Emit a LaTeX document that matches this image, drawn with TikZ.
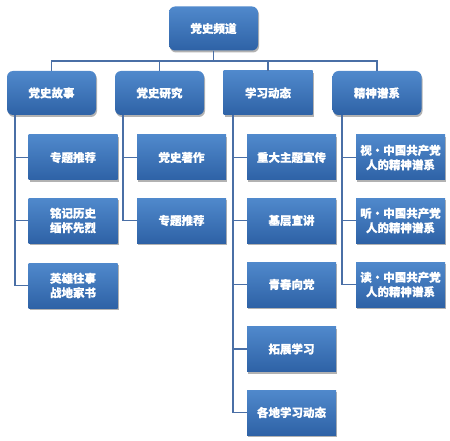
\documentclass[tikz,border=0pt]{standalone}
\usepackage{fontspec}
\setmainfont{Noto Sans CJK SC}[FakeBold=0.6]
\usetikzlibrary{shadows}
\definecolor{boxtop}{HTML}{5089CC}
\definecolor{boxbot}{HTML}{2E62A6}
\definecolor{linec}{HTML}{4A6FA6}
\tikzset{
  base/.style={draw=none, top color=boxtop, bottom color=boxbot, text=white,
    font=\fontsize{11.5}{14.5}\selectfont\bfseries, align=center, inner sep=0pt,
    drop shadow={shadow xshift=1pt, shadow yshift=-2pt, opacity=0.3, fill=black}},
  rbox/.style={base, rounded corners=6pt, minimum width=89pt, minimum height=44pt},
  sbox/.style={base, minimum width=89pt, minimum height=44pt},
  cbox/.style={base, minimum width=89pt, minimum height=45pt},
  conn/.style={draw=linec, line width=1.3pt}
}
\begin{document}
\begin{tikzpicture}[x=1pt,y=-1pt]
\useasboundingbox (0,0) rectangle (450,441);
% root
\node[rbox] (root) at (213.5,28.5) {党史频道};
% level 1
\node[rbox] (a) at (51.5,93) {党史故事};
\node[rbox] (b) at (159.5,93) {党史研究};
\node[sbox] (c) at (268,93) {学习动态};
\node[rbox] (d) at (377,93) {精神谱系};
% children of a
\node[cbox] (a1) at (73,157.5) {专题推荐};
\node[cbox] (a2) at (73,220.5) {铭记历史\\缅怀先烈};
\node[cbox] (a3) at (73,285.5) {英雄往事\\战地家书};
% children of b
\node[cbox] (b1) at (181.5,157.5) {党史著作};
\node[cbox] (b2) at (181.5,220.5) {专题推荐};
% children of c
\node[cbox] (c1) at (291.5,157.5) {重大主题宣传};
\node[cbox] (c2) at (291.5,220.5) {基层宣讲};
\node[cbox] (c3) at (291.5,284.5) {青春向党};
\node[cbox] (c4) at (291.5,349) {拓展学习};
\node[cbox] (c5) at (291.5,412.5) {各地学习动态};
% children of d
\node[cbox] (d1) at (400.5,157.5) {视・中国共产党\\人的精神谱系};
\node[cbox] (d2) at (400.5,220.5) {听・中国共产党\\人的精神谱系};
\node[cbox] (d3) at (400.5,284.5) {读・中国共产党\\人的精神谱系};
% connectors root -> level 1
\coordinate (bus) at (213.5,61);
\foreach \n in {a,b,c,d}{
  \draw[conn] (root.south) -- (bus) -| (\n.north);
}
% vertical spines
\foreach \p/\x/\kids in {a/15/{a1,a2,a3}, b/123/{b1,b2}, c/233/{c1,c2,c3,c4,c5}, d/342/{d1,d2,d3}}{
  \foreach \k in \kids {
    \draw[conn] (\x,115) |- (\k.west);
  }
}
\end{tikzpicture}
\end{document}
